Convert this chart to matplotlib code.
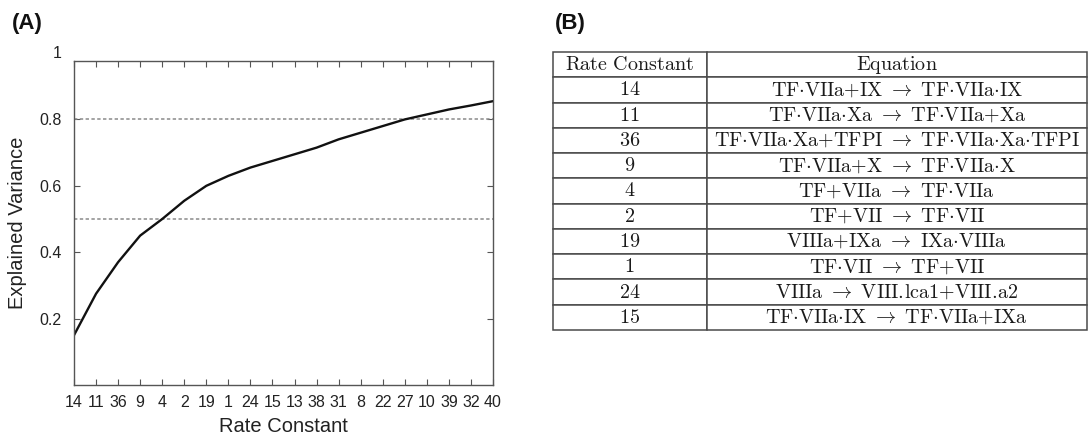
import matplotlib
matplotlib.use("Agg")
import matplotlib.pyplot as plt

plt.rcParams['font.family'] = ['Liberation Sans', 'DejaVu Sans']
plt.rcParams['mathtext.fontset'] = 'cm'

# rate constants in the order they were added, and cumulative explained variance
rate_labels = ['14', '11', '36', '9', '4', '2', '19', '1', '24', '15',
               '13', '38', '31', '8', '22', '27', '10', '39', '32', '40']
explained = [0.15, 0.275, 0.37, 0.45, 0.50, 0.555, 0.60, 0.63, 0.655, 0.675,
             0.695, 0.715, 0.74, 0.76, 0.78, 0.80, 0.815, 0.83, 0.842, 0.855]
thresholds = [0.5, 0.8]

# top ten rate constants and their reactions
table_ids = ['14', '11', '36', '9', '4', '2', '19', '1', '24', '15']
table_eqs = ['TF·VIIa+IX → TF·VIIa·IX',
             'TF·VIIa·Xa → TF·VIIa+Xa',
             'TF·VIIa·Xa+TFPI → TF·VIIa·Xa·TFPI',
             'TF·VIIa+X → TF·VIIa·X',
             'TF+VIIa → TF·VIIa',
             'TF+VII → TF·VII',
             'VIIIa+IXa → IXa·VIIIa',
             'TF·VII → TF+VII',
             'VIIIa → VIII.lca1+VIII.a2',
             'TF·VIIa·IX → TF·VIIa+IXa']
table_header = ['Rate Constant', 'Equation']


def to_tex(s):
    # typeset a reaction string in computer modern roman
    sides = []
    for part in s.split('→'):
        part = part.strip().replace('·', r'{\cdot}').replace('+', '{+}')
        part = part.replace('.', r'.\!')  # mathtext pads punctuation, undo it
        sides.append(r'\mathrm{' + part + '}')
    return '$' + r'\ \rightarrow\ '.join(sides) + '$'


def to_rm(s):
    return r'$\mathrm{' + s.replace(' ', r'\ ') + '}$'


W, H = 1089, 440
fig = plt.figure(figsize=(W / 100, H / 100), dpi=100)

# ---- panel A: explained variance curve
ax = fig.add_axes([74 / W, 1 - 385 / H, (493 - 74) / W, (385 - 61) / H])
x = list(range(1, len(explained) + 1))
for t in thresholds:
    ax.axhline(t, color='#8a8a8a', lw=1.1, ls=(0, (2.2, 1.6)))
ax.plot(x, explained, color='#111111', lw=1.7)

ax.set_xlim(1, len(explained))
ax.set_ylim(0, 0.976)
ax.set_xticks(x)
ax.set_xticklabels(rate_labels)
ax.set_yticks([0.2, 0.4, 0.6, 0.8])
ax.set_yticklabels(['0.2', '0.4', '0.6', '0.8'])
# the top tick label sits just above the frame
ax.text(-0.03, 1.0, '1', transform=ax.get_yaxis_transform(), ha='right',
        va='center', fontsize=11.5, color='#222222', clip_on=False)
ax.tick_params(direction='in', length=4, width=0.8, color='#555555',
               labelsize=11.5, labelcolor='#222222', top=True, right=True)
ax.tick_params(axis='x', pad=7)
ax.tick_params(axis='y', pad=9)
for s in ax.spines.values():
    s.set_color('#555555')
    s.set_linewidth(1.0)
ax.set_xlabel('Rate Constant', fontsize=14.5, color='#222222', labelpad=5)
ax.set_ylabel('Explained Variance', fontsize=14.5, color='#222222', labelpad=9)

fig.text(12 / W, 1 - 23 / H, '(A)', fontsize=16, fontweight='bold',
         va='center', ha='left', color='#111111')
fig.text(555 / W, 1 - 23 / H, '(B)', fontsize=16, fontweight='bold',
         va='center', ha='left', color='#111111')

# ---- panel B: reaction table
tx0, tx1, ty0, ty1 = 553, 1087, 52, 330
tax = fig.add_axes([tx0 / W, 1 - ty1 / H, (tx1 - tx0) / W, (ty1 - ty0) / H])
tax.axis('off')
cell_text = [[to_rm(i), to_tex(e)] for i, e in zip(table_ids, table_eqs)]
col_w = (706.5 - tx0) / (tx1 - tx0)
tbl = tax.table(cellText=cell_text, colLabels=[to_rm(h) for h in table_header],
                cellLoc='center', colWidths=[col_w, 1 - col_w], bbox=[0, 0, 1, 1])
tbl.auto_set_font_size(False)
for (r, c), cell in tbl.get_celld().items():
    cell.set_edgecolor('#4a4a4a')
    cell.set_linewidth(1.1)
    cell.get_text().set_fontsize(14.5)
    cell.get_text().set_color('#1a1a1a')

fig.savefig('out.png', dpi=100)
